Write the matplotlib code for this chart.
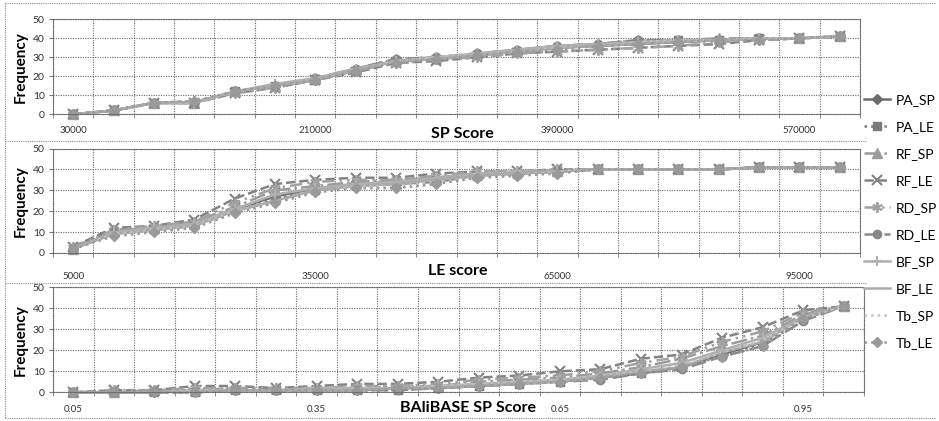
import matplotlib
matplotlib.use('Agg')
import matplotlib.pyplot as plt
from matplotlib.lines import Line2D

plt.rcParams['font.family'] = ['Lato', 'DejaVu Sans']

W, H = 939, 421

series_names = ['PA_SP', 'PA_LE', 'RF_SP', 'RF_LE', 'RD_SP',
                'RD_LE', 'BF_SP', 'BF_LE', 'Tb_SP', 'Tb_LE']

# ---------------- data ----------------
sp_categories = ['30000', '60000', '90000', '120000', '150000', '180000', '210000',
                 '240000', '270000', '300000', '330000', '360000', '390000', '420000',
                 '450000', '480000', '510000', '540000', '570000', '600000']
le_categories = ['5000', '10000', '15000', '20000', '25000', '30000', '35000', '40000',
                 '45000', '50000', '55000', '60000', '65000', '70000', '75000', '80000',
                 '85000', '90000', '95000', '100000']
bb_categories = ['0.05', '0.1', '0.15', '0.2', '0.25', '0.3', '0.35', '0.4', '0.45', '0.5',
                 '0.55', '0.6', '0.65', '0.7', '0.75', '0.8', '0.85', '0.9', '0.95', '1']
shown_ticks = [0, 6, 12, 18]

sp_PA_SP = [0, 2, 6, 6, 12, 15, 18, 23, 28, 29, 31, 33, 35, 36, 37, 38, 39, 40, 40, 41]
sp_PA_LE = [0, 2, 6, 6, 12, 15, 18, 23, 28, 29, 31, 33, 35, 36, 38, 39, 39, 40, 40, 41]
sp_RF_SP = [0, 2, 6, 6, 12, 15, 19, 24, 29, 30, 32, 34, 36, 37, 39, 39, 40, 40, 40, 41]
sp_RF_LE = [0, 2, 6, 6, 11, 14, 18, 22, 27, 28, 30, 32, 33, 34, 35, 36, 37, 39, 40, 41]
sp_RD_SP = [0, 2, 6, 7, 11, 14, 18, 23, 27, 29, 30, 32, 33, 34, 35, 36, 38, 39, 40, 41]
sp_RD_LE = [0, 2, 6, 6, 12, 15, 19, 24, 29, 30, 32, 34, 36, 37, 39, 39, 39, 40, 40, 41]
sp_BF_SP = [0, 2, 6, 6, 12, 16, 19, 24, 28, 30, 32, 34, 36, 37, 38, 39, 39, 40, 40, 41]
sp_BF_LE = [0, 2, 6, 6, 12, 15, 18, 23, 28, 29, 31, 33, 35, 36, 37, 38, 39, 40, 40, 41]
sp_Tb_SP = [0, 2, 6, 6, 12, 15, 18, 23, 28, 30, 32, 33, 35, 36, 38, 39, 39, 40, 40, 41]
sp_Tb_LE = [0, 2, 6, 7, 12, 15, 18, 23, 27, 29, 31, 33, 34, 36, 37, 38, 39, 39, 40, 41]

le_PA_SP = [2, 10, 12, 14, 21, 27, 31, 33, 34, 36, 38, 38, 39, 40, 40, 40, 40, 41, 41, 41]
le_PA_LE = [2, 10, 12, 14, 21, 26, 30, 33, 33, 35, 37, 38, 39, 40, 40, 40, 40, 41, 41, 41]
le_RF_SP = [2, 11, 12, 15, 22, 30, 32, 34, 35, 36, 38, 39, 39, 40, 40, 40, 40, 41, 41, 41]
le_RF_LE = [3, 12, 13, 16, 26, 33, 35, 36, 36, 38, 39, 39, 40, 40, 40, 40, 40, 41, 41, 41]
le_RD_SP = [3, 11, 13, 15, 24, 31, 34, 35, 35, 37, 39, 39, 40, 40, 40, 40, 40, 41, 41, 41]
le_RD_LE = [2, 10, 11, 13, 20, 25, 30, 32, 33, 34, 37, 38, 39, 40, 40, 40, 40, 41, 41, 41]
le_BF_SP = [2, 10, 12, 14, 21, 28, 31, 33, 34, 36, 38, 39, 39, 40, 40, 40, 40, 41, 41, 41]
le_BF_LE = [2, 9, 11, 13, 20, 25, 30, 32, 33, 35, 37, 38, 39, 40, 40, 40, 40, 41, 41, 41]
le_Tb_SP = [2, 9, 11, 13, 20, 24, 29, 32, 32, 34, 36, 37, 39, 40, 40, 40, 40, 41, 41, 41]
le_Tb_LE = [2, 8, 10, 12, 19, 24, 29, 31, 31, 33, 36, 37, 38, 40, 40, 40, 40, 41, 41, 41]

bb_PA_SP = [0, 0, 0, 1, 1, 1, 1, 1, 2, 2, 3, 4, 6, 7, 9, 12, 18, 24, 36, 41]
bb_PA_LE = [0, 0, 0, 0, 1, 1, 1, 1, 1, 2, 3, 4, 5, 7, 9, 12, 18, 23, 35, 41]
bb_RF_SP = [0, 0, 1, 1, 2, 2, 2, 2, 3, 3, 5, 6, 7, 9, 12, 16, 22, 27, 37, 41]
bb_RF_LE = [0, 1, 1, 3, 3, 2, 3, 4, 4, 5, 7, 8, 10, 11, 16, 18, 26, 31, 39, 41]
bb_RD_SP = [0, 1, 1, 2, 2, 2, 2, 3, 3, 4, 6, 7, 8, 10, 14, 17, 24, 29, 38, 41]
bb_RD_LE = [0, 0, 0, 0, 1, 1, 1, 1, 1, 2, 3, 4, 5, 6, 9, 11, 17, 22, 34, 41]
bb_BF_SP = [0, 0, 0, 1, 1, 1, 2, 2, 2, 3, 4, 5, 6, 8, 11, 14, 20, 26, 36, 41]
bb_BF_LE = [0, 0, 0, 1, 1, 1, 1, 1, 2, 2, 3, 4, 5, 7, 10, 12, 19, 24, 36, 41]
bb_Tb_SP = [0, 0, 0, 1, 1, 1, 1, 2, 2, 3, 4, 5, 6, 8, 10, 13, 19, 25, 35, 41]
bb_Tb_LE = [0, 0, 0, 0, 1, 1, 1, 1, 2, 2, 3, 4, 5, 7, 9, 12, 17, 22, 35, 41]

sp_data = [sp_PA_SP, sp_PA_LE, sp_RF_SP, sp_RF_LE, sp_RD_SP,
           sp_RD_LE, sp_BF_SP, sp_BF_LE, sp_Tb_SP, sp_Tb_LE]
le_data = [le_PA_SP, le_PA_LE, le_RF_SP, le_RF_LE, le_RD_SP,
           le_RD_LE, le_BF_SP, le_BF_LE, le_Tb_SP, le_Tb_LE]
bb_data = [bb_PA_SP, bb_PA_LE, bb_RF_SP, bb_RF_LE, bb_RD_SP,
           bb_RD_LE, bb_BF_SP, bb_BF_LE, bb_Tb_SP, bb_Tb_LE]

# ---------------- styles ----------------
styles = [
    dict(color='#6c6c6c', ls='-', marker='D', ms=5.5),
    dict(color='#7a7a7a', ls=':', marker='s', ms=6),
    dict(color='#9c9c9c', ls='-.', marker='^', ms=6.5),
    dict(color='#838383', ls='--', marker='x', ms=6.5, mew=1.5),
    dict(color='#a2a2a2', ls=(0, (5, 2, 1, 2, 1, 2)), marker=(6, 2, 0), ms=7.5, mew=1.4),
    dict(color='#878787', ls=(0, (6, 2)), marker='o', ms=6),
    dict(color='#b0b0b0', ls='-', marker='+', ms=7.5, mew=1.5),
    dict(color='#aaaaaa', ls='-', marker='None'),
    dict(color='#c2c2c2', ls=':', marker='None'),
    dict(color='#9a9a9a', ls=':', marker='D', ms=5.5),
]

fig = plt.figure(figsize=(W / 100, H / 100), dpi=100)


def frac_rect(l, t, r, b):
    return [l / W, 1 - b / H, (r - l) / W, (b - t) / H]


panels = [
    dict(rect=(53, 19.3, 860, 114.3), cats=sp_categories, data=sp_data,
         title='SP Score', title_xy=(462, 134), pad=8.5),
    dict(rect=(53, 148.5, 860, 253), cats=le_categories, data=le_data,
         title='LE score', title_xy=(458, 271), pad=13.5),
    dict(rect=(53, 287.3, 864, 392.3), cats=bb_categories, data=bb_data,
         title='BAliBASE SP Score', title_xy=(468, 408), pad=9.5),
]

grid_kw = dict(color='#6a6a6a', linestyle=(0, (1, 1.2)), linewidth=0.8)
handles = None
for p in panels:
    ax = fig.add_axes(frac_rect(*p['rect']))
    x = list(range(len(p['cats'])))
    lines = []
    for name, vals, st in zip(series_names, p['data'], styles):
        st = dict(st)
        ln, = ax.plot(x, vals, label=name, lw=1.8, mec=st['color'],
                      mfc=st['color'], clip_on=False, **st)
        lines.append(ln)
    if handles is None:
        handles = lines
    ax.set_xlim(-0.5, len(x) - 0.5)
    ax.set_ylim(0, 50)
    ax.set_yticks([0, 10, 20, 30, 40, 50])
    ax.set_xticks(shown_ticks)
    ax.set_xticklabels([p['cats'][i] for i in shown_ticks])
    ax.set_xticks([i - 0.5 for i in range(len(x) + 1)], minor=True)
    ax.grid(True, which='major', axis='y', **grid_kw)
    ax.grid(True, which='minor', axis='x', **grid_kw)
    ax.set_axisbelow(True)
    for s in ax.spines.values():
        s.set_linestyle((0, (1, 1.2)))
        s.set_color('#6a6a6a')
        s.set_linewidth(0.8)
    ax.tick_params(axis='x', which='major', length=0, labelsize=7,
                   pad=p['pad'], labelcolor='#333333')
    ax.tick_params(axis='x', which='minor', length=3, color='#777777')
    ax.tick_params(axis='y', length=3, color='#777777', labelsize=7.5,
                   pad=3, labelcolor='#333333')
    ax.set_ylabel('Frequency', fontsize=11, fontweight='bold')
    ax.yaxis.set_label_coords(-(53 - 28) / (p['rect'][2] - p['rect'][0]), 0.5)
    fig.text(p['title_xy'][0] / W, 1 - p['title_xy'][1] / H, p['title'],
             fontsize=11.5, fontweight='bold', ha='center', va='center')

# panel borders (dotted)
border_kw = dict(color='#8a8a8a', linestyle=(0, (1, 1)), linewidth=0.8)


def fig_line(x0, y0, x1, y1):
    fig.add_artist(Line2D([x0 / W, x1 / W], [1 - y0 / H, 1 - y1 / H],
                          transform=fig.transFigure, **border_kw))


fig_line(5, 3, 936, 3)
fig_line(5, 3, 5, 418)
fig_line(5, 418, 936, 418)
fig_line(5, 141, 866, 141)
fig_line(5, 283, 866, 283)

fig.legend(handles, series_names, loc='upper left',
           bbox_to_anchor=(864 / W, 1 - 94 / H), frameon=False,
           fontsize=10, handlelength=1.9, handletextpad=0.4,
           labelspacing=1.08, borderpad=0, borderaxespad=0)

fig.savefig('out.png', dpi=100, facecolor='white')
